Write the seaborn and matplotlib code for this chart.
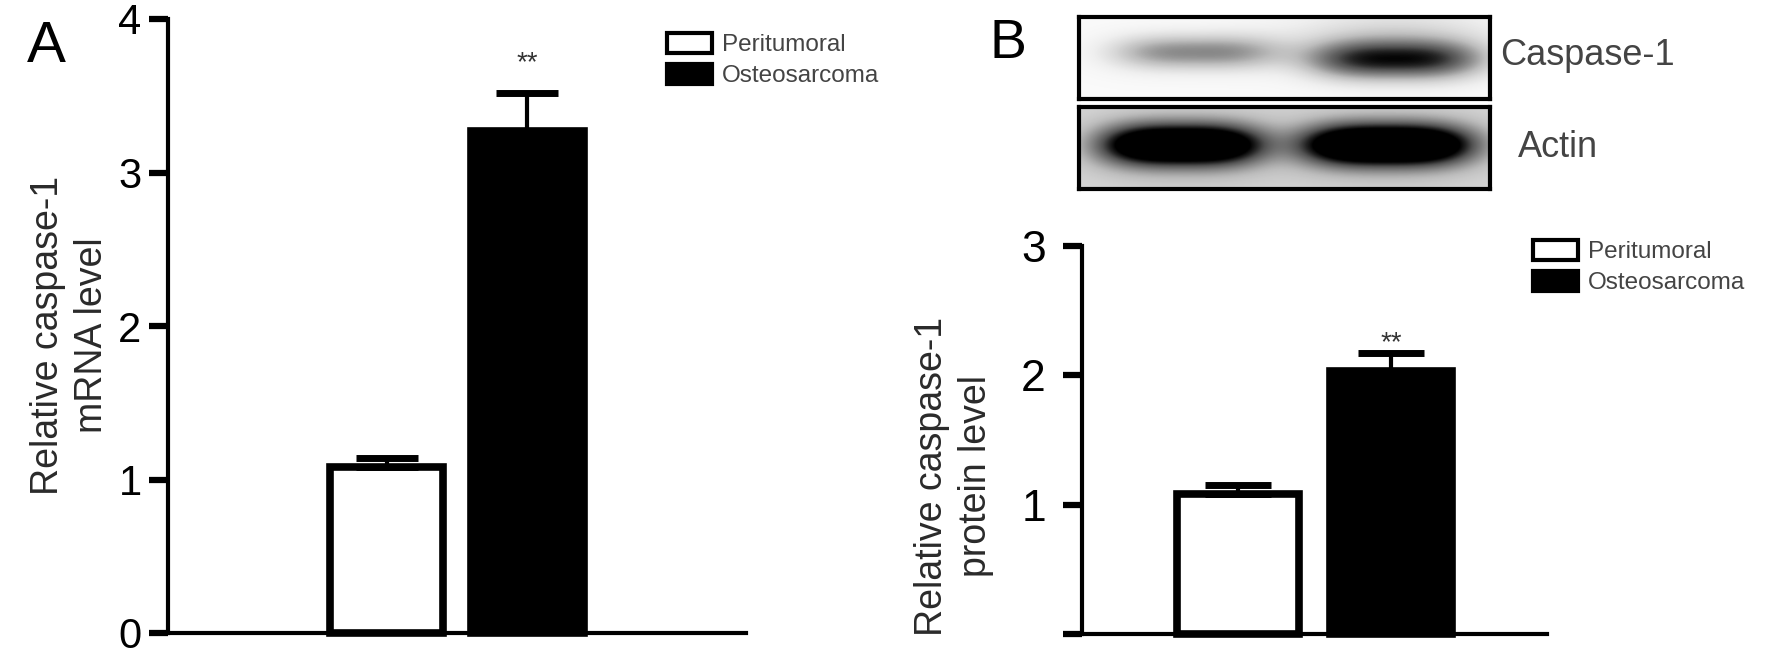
import numpy as np
import pandas as pd
import matplotlib
matplotlib.use('Agg')
import matplotlib.pyplot as plt
from matplotlib.patches import Patch
import seaborn as sns

# ------------------------------------------------------------
# data
# ------------------------------------------------------------
groups = ['Peritumoral', 'Osteosarcoma']
mrna_mean = [1.08, 3.27]
mrna_sem = [0.06, 0.25]
protein_mean = [1.08, 2.03]
protein_sem = [0.07, 0.14]
mrna_ticks = [0, 1, 2, 3, 4]
protein_ticks = [0, 1, 2, 3]
protein_ticklabels = ['', '1', '2', '3']
signif = '**'

# western blot band strength per lane (0 = none, >1 = saturated)
caspase_band = [0.5, 0.8]
actin_band = [1.3, 1.4]

sns.set_style('white')
plt.rcParams['font.family'] = ['Liberation Sans', 'DejaVu Sans']

W, H = 1772, 654
fig = plt.figure(figsize=(W / 100, H / 100), dpi=100)

palette = {'Peritumoral': 'white', 'Osteosarcoma': 'black'}
df_a = pd.DataFrame({'group': groups, 'value': mrna_mean})
df_b = pd.DataFrame({'group': groups, 'value': protein_mean})


def px_axes(x0, y0, x1, y1):
    # box in pixel coords of the reference (top-left origin)
    return fig.add_axes([x0 / W, (H - y1) / H, (x1 - x0) / W, (y1 - y0) / H])


def bar_panel(ax, df, sem, ticks, labels, ylim, xlim, tsize, tpad, capsize):
    sns.barplot(data=df, x='group', y='value', hue='group', palette=palette,
                order=groups, hue_order=groups, width=0.8, errorbar=None,
                edgecolor='black', linewidth=5.5, legend=False, ax=ax, zorder=2)
    ax.errorbar(x=[0, 1], y=df['value'], yerr=[[0, 0], sem], fmt='none',
                ecolor='black', elinewidth=3, capsize=capsize, capthick=5, zorder=3)
    ax.set_xlim(*xlim)
    ax.set_ylim(*ylim)
    ax.set_yticks(ticks)
    ax.set_yticklabels(labels)
    ax.set_xticks([])
    ax.set_xlabel('')
    for s in ['top', 'right']:
        ax.spines[s].set_visible(False)
    for s in ['left', 'bottom']:
        ax.spines[s].set_linewidth(3)
        ax.spines[s].set_color('black')
    ax.tick_params(axis='y', direction='out', length=14, width=4.5,
                   labelsize=tsize, pad=tpad, colors='black', left=True)
    for p in ax.patches:
        p.set_clip_on(False)


# ---------------- panel A ----------------
ax_a = px_axes(168, 19, 746, 633)
bar_panel(ax_a, df_a, mrna_sem, mrna_ticks, [str(t) for t in mrna_ticks],
          (0, 4), (-1.55, 2.55), 30, 5, 22)
ax_a.set_ylabel('Relative caspase-1\nmRNA level', fontsize=27, color='#2a2a2a',
                va='center', ha='center', linespacing=1.3)
ax_a.yaxis.set_label_coords(70 / W, 1 - 335 / H, transform=fig.transFigure)
ax_a.annotate(signif, xy=(1, mrna_mean[1] + mrna_sem[1]), xytext=(0, 16),
              textcoords='offset points', ha='center', va='baseline',
              fontsize=20, color='#333333')

leg_handles = [Patch(facecolor='white', edgecolor='black', linewidth=3),
               Patch(facecolor='black', edgecolor='black', linewidth=3)]
leg_kw = dict(frameon=False, loc='upper left', fontsize=17.5, handlelength=1.85,
              handleheight=0.9, handletextpad=0.4, labelspacing=0.3,
              borderpad=0, borderaxespad=0, labelcolor='#444444')
fig.legend(leg_handles, groups, bbox_to_anchor=(667 / W, 1 - 33 / H), **leg_kw)

# ---------------- panel B ----------------
ax_b = px_axes(1082, 246, 1547, 634)
bar_panel(ax_b, df_b, protein_sem, protein_ticks, protein_ticklabels,
          (0, 3), (-1.02, 2.02), 32, 12, 24)
ax_b.set_ylabel('Relative caspase-1\nprotein level', fontsize=27, color='#2a2a2a',
                va='center', ha='center', linespacing=1.3)
ax_b.yaxis.set_label_coords(954 / W, 1 - 476 / H, transform=fig.transFigure)
ax_b.annotate(signif, xy=(1, protein_mean[1] + protein_sem[1]), xytext=(0, 2),
              textcoords='offset points', ha='center', va='baseline',
              fontsize=20, color='#333333')
fig.legend(leg_handles, groups, bbox_to_anchor=(1533 / W, 1 - 240 / H), **leg_kw)

# ---------------- western blot strips ----------------
xx, yy = np.meshgrid(np.linspace(0, 1, 411), np.linspace(0, 1, 82))


def band(cx, cy, wx, wy, p=3):
    return np.exp(-np.abs((xx - cx) / wx) ** p) * np.exp(-((yy - cy) / wy) ** 2)


casp_img = (0.04
            + caspase_band[0] * band(0.285, 0.43, 0.21, 0.22)
            + caspase_band[1] * band(0.77, 0.52, 0.21, 0.24)
            + 0.2 * band(0.77, 0.25, 0.27, 0.45, 2))
actin_img = (0.26
             + actin_band[0] * band(0.25, 0.47, 0.19, 0.24)
             + actin_band[1] * band(0.75, 0.47, 0.2, 0.24)
             + 0.07 * band(0.25, 0.5, 0.25, 0.6, 2)
             + 0.07 * band(0.75, 0.5, 0.26, 0.6, 2))

for img, (y0, y1), name, tx, base in [(casp_img, (17, 99), 'Caspase-1', 1500, 65),
                                       (actin_img, (107, 189), 'Actin', 1518, 157)]:
    axb = px_axes(1079, y0, 1490, y1)
    axb.imshow(np.clip(img, 0, 1), cmap='Greys', vmin=0, vmax=1, aspect='auto',
               interpolation='bilinear')
    axb.set_xticks([])
    axb.set_yticks([])
    for s in axb.spines.values():
        s.set_visible(True)
        s.set_linewidth(3)
        s.set_color('black')
    fig.text(tx / W, 1 - base / H, name, fontsize=26, color='#444444',
             ha='left', va='baseline')

# panel letters
fig.text(27 / W, 1 - 62 / H, 'A', fontsize=42, color='black', va='baseline')
fig.text(990 / W, 1 - 58 / H, 'B', fontsize=40, color='black', va='baseline')

fig.savefig('out.png', dpi=100)
plt.close(fig)
